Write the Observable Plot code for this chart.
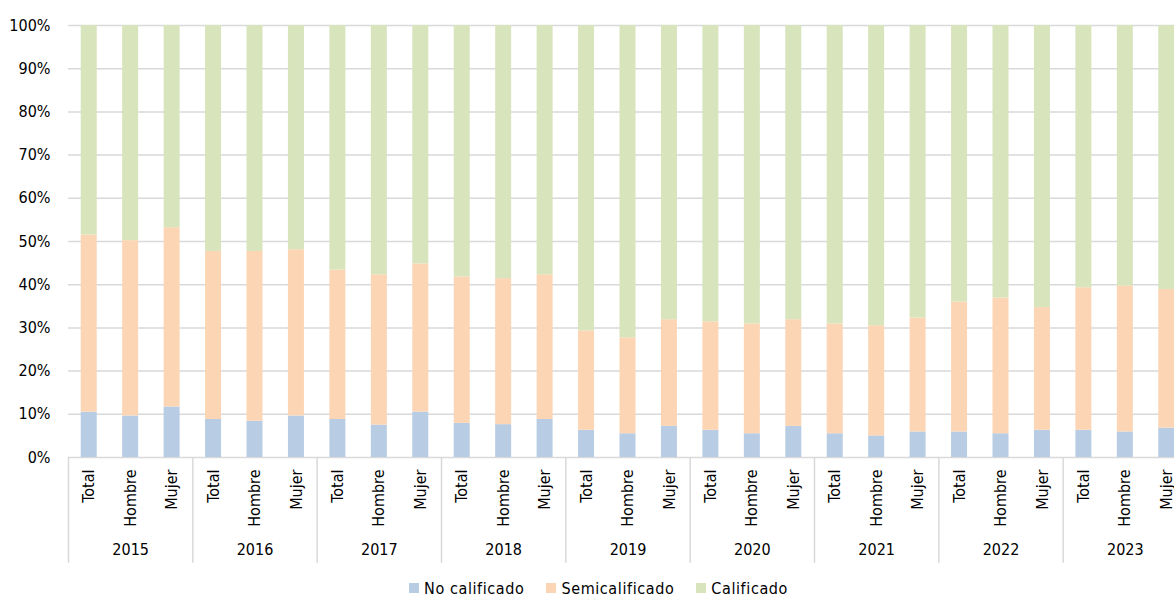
<!DOCTYPE html>
<html>
<head>
<meta charset="utf-8">
<script src="https://cdn.jsdelivr.net/npm/d3@7"></script>
<script src="https://cdn.jsdelivr.net/npm/@observablehq/plot@0.6"></script>
<style>
  html, body { margin: 0; padding: 0; background: #fff; overflow: hidden; width: 1174px; height: 597px; }
  #wrap { width: 1187px; font-family: "Liberation Sans Narrow", "Arial Narrow", "DejaVu Sans Condensed", sans-serif; }
  #chart svg { max-width: none !important; }
  #legend { display: flex; justify-content: center; align-items: center; gap: 22px; font-size: 16px; letter-spacing: 0.6px; color: #000; height: 24px; margin-top: 4px; padding-left: 10px; }
  #legend .item { display: flex; align-items: center; gap: 5px; }
  #legend .sw { width: 10px; height: 10px; display: inline-block; }
</style>
</head>
<body>
<div id="wrap">
  <div id="chart"></div>
  <div id="legend"></div>
</div>
<script>
const years = ["2015","2016","2017","2018","2019","2020","2021","2022","2023"];
const categories = ["Total","Hombre","Mujer"];
const seriesNames = ["No calificado","Semicalificado","Calificado"];
const seriesColors = ["#B8CCE4","#FCD5B4","#D8E4BC"];

// values in %, order: year × (Total, Hombre, Mujer)
const noCalificado = [
  10.5, 9.6, 11.7,
  8.8, 8.4, 9.6,
  8.8, 7.5, 10.5,
  7.9, 7.6, 8.8,
  6.3, 5.5, 7.2,
  6.3, 5.5, 7.2,
  5.5, 5.0, 5.9,
  5.9, 5.5, 6.3,
  6.3, 5.9, 6.8
];
const semicalificado = [
  41.0, 40.6, 41.5,
  38.9, 39.3, 38.5,
  34.6, 34.8, 34.3,
  33.9, 33.8, 33.5,
  23.0, 22.2, 24.7,
  25.1, 25.4, 24.7,
  25.4, 25.5, 26.4,
  30.1, 31.4, 28.4,
  33.0, 33.8, 32.1
];
const calificado = [
  48.5, 49.8, 46.8,
  52.3, 52.3, 51.9,
  56.6, 57.7, 55.2,
  58.2, 58.6, 57.7,
  70.7, 72.3, 68.1,
  68.6, 69.1, 68.1,
  69.1, 69.5, 67.7,
  64.0, 63.1, 65.3,
  60.7, 60.3, 61.1
];
const yTicks = [0, 0.1, 0.2, 0.3, 0.4, 0.5, 0.6, 0.7, 0.8, 0.9, 1];

const seriesValues = [noCalificado, semicalificado, calificado];
const keys = [];
const rows = [];
years.forEach((yr, yi) => {
  categories.forEach((cat, ci) => {
    const key = yr + "|" + cat;
    keys.push(key);
    seriesNames.forEach((s, si) => {
      rows.push({key, year: yr, cat, series: s, value: seriesValues[si][yi * 3 + ci]});
    });
  });
});

const width = 1187, height = 572;
const marginLeft = 68, marginRight = 0, marginTop = 25, marginBottom = 115;
const step = (width - marginLeft - marginRight) / keys.length;
const grey = "#D9D9D9";

const chart = Plot.plot({
  width, height, marginLeft, marginRight, marginTop, marginBottom,
  style: {fontFamily: '"Liberation Sans Narrow", "Arial Narrow", "DejaVu Sans Condensed", sans-serif', fontSize: "16px", color: "#000", background: "#fff", maxWidth: "none"},
  x: {domain: keys, round: false, paddingInner: 0.614, paddingOuter: 0.307, tickRotate: -90, tickSize: 0, tickPadding: 12, tickFormat: d => d.split("|")[1], label: null},
  y: {domain: [0, 1], ticks: yTicks, tickFormat: d3.format(".0%"), tickSize: 0, tickPadding: 18, label: null},
  color: {domain: seriesNames, range: seriesColors},
  marks: [
    Plot.ruleY(yTicks, {stroke: grey, strokeWidth: 1.5}),
    Plot.barY(rows, Plot.stackY({x: "key", y: "value", fill: "series", order: seriesNames, offset: "normalize", inset: 0})),
    Plot.ruleX(years, {x: d => d + "|Total", dx: -step / 2, y1: 0, y2: -0.245, stroke: grey, strokeWidth: 1.5}),
    Plot.ruleX(["2023"], {x: d => d + "|Mujer", dx: step / 2, y1: 0, y2: -0.245, stroke: grey, strokeWidth: 1.5}),
    Plot.text(years, {x: d => d + "|Hombre", frameAnchor: "bottom", dy: 97, text: d => d, fontSize: 16})
  ]
});
document.getElementById("chart").appendChild(chart);

const legend = document.getElementById("legend");
seriesNames.forEach((s, i) => {
  const it = document.createElement("span");
  it.className = "item";
  const sw = document.createElement("span");
  sw.className = "sw";
  sw.style.background = seriesColors[i];
  const tx = document.createElement("span");
  tx.textContent = s;
  it.appendChild(sw); it.appendChild(tx);
  legend.appendChild(it);
});
</script>
</body>
</html>
